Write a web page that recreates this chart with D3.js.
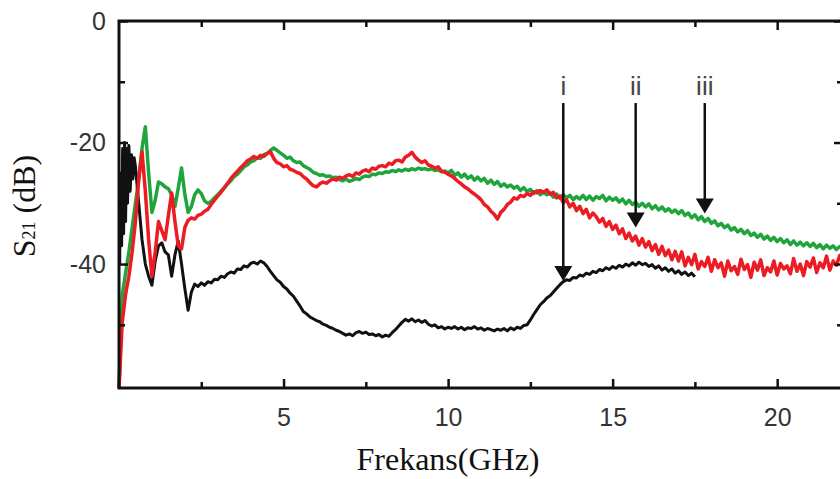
<!DOCTYPE html>
<html lang="en">
<head>
    <meta charset="UTF-8">
    <title>S21 vs Frekans</title>
    <script src="https://d3js.org/d3.v7.min.js"></script>
    <style>
        body {
            margin: 0;
            background: #fff;
        }
        svg {
            display: block;
        }
        .tick text {
            font-family: "Liberation Sans", Arial, sans-serif;
            font-size: 25px;
            fill: #333;
        }
    </style>
</head>
<body>
    <svg width="840" height="479"></svg>

    <script>
        // frequency grid (GHz), all series sampled every 0.1 GHz
        const freqStep = 0.1;
        const greenStart = 0, redStart = 0, blackStart = 0.5;

        const greenS21 = [
            -60.4,-45.0,-41.5,-38.0,-34.0,-30.0,-26.0,-21.0,-17.4,-25.0,
            -31.5,-29.5,-26.5,-26.8,-27.3,-27.6,-28.6,-30.5,-27.5,-24.2,
            -28.5,-31.5,-30.5,-28.6,-27.8,-28.4,-29.6,-30.0,-29.7,-29.1,
            -28.6,-28.0,-27.5,-26.8,-26.3,-25.6,-25.2,-24.6,-24.0,-23.7,
            -23.2,-23.0,-22.5,-22.6,-22.0,-21.8,-21.3,-20.9,-21.3,-21.7,
            -22.1,-22.6,-22.4,-23.0,-23.3,-23.2,-23.8,-24.1,-24.4,-24.9,
            -25.1,-25.4,-25.3,-25.6,-25.5,-25.8,-25.7,-26.1,-26.3,-26.0,
            -26.4,-26.2,-25.9,-26.1,-25.7,-25.5,-25.6,-25.2,-25.3,-25.0,
            -25.1,-24.8,-24.9,-24.6,-24.8,-24.5,-24.7,-24.4,-24.6,-24.3,
            -24.5,-24.2,-24.4,-24.3,-24.5,-24.3,-24.6,-24.5,-24.8,-24.7,
            -25.0,-24.6,-25.4,-25.0,-25.7,-25.2,-25.9,-25.5,-26.2,-25.7,
            -26.3,-25.9,-26.7,-26.2,-26.9,-26.4,-27.2,-26.8,-27.3,-27.0,
            -27.5,-27.2,-27.9,-27.4,-28.1,-27.7,-28.4,-27.9,-28.6,-28.2,
            -28.6,-28.3,-29.0,-28.5,-29.2,-28.6,-29.1,-28.7,-29.4,-28.9,
            -29.3,-28.7,-29.4,-28.8,-29.5,-28.9,-29.2,-28.7,-29.6,-29.0,
            -29.5,-29.1,-29.8,-29.3,-30.1,-29.5,-30.2,-29.8,-30.5,-30.0,
            -30.6,-30.1,-30.9,-30.4,-31.1,-30.6,-31.3,-30.9,-31.5,-31.1,
            -31.7,-31.2,-32.0,-31.6,-32.4,-31.9,-32.7,-32.2,-33.0,-32.5,
            -33.3,-32.9,-33.7,-33.3,-34.0,-33.6,-34.4,-34.0,-34.7,-34.3,
            -35.0,-34.5,-35.3,-34.9,-35.6,-35.1,-35.9,-35.4,-36.1,-35.6,
            -36.3,-35.8,-36.5,-36.0,-36.8,-36.2,-36.9,-36.4,-37.0,-36.5,
            -37.1,-36.6,-37.3,-36.8,-37.5,-36.9,-37.4,-37.0,-37.6,-37.1,
            -37.3
        ];

        const redS21 = [
            -60.4,-49.5,-45.0,-42.0,-38.0,-33.0,-26.0,-21.5,-28.0,-36.0,
            -42.0,-38.0,-33.0,-34.5,-36.0,-32.0,-28.3,-33.0,-37.0,-37.5,
            -34.0,-32.8,-32.4,-32.6,-32.0,-31.8,-31.3,-31.0,-30.2,-29.5,
            -28.8,-28.2,-27.4,-26.7,-25.9,-25.3,-24.7,-24.1,-23.6,-23.0,
            -22.7,-22.3,-22.6,-22.1,-22.3,-21.8,-21.5,-22.6,-23.3,-23.5,
            -24.0,-23.8,-24.4,-24.6,-24.9,-25.1,-25.6,-26.0,-26.6,-27.1,
            -27.3,-26.8,-26.5,-26.7,-26.3,-26.0,-26.2,-25.7,-25.9,-25.5,
            -25.3,-25.6,-25.0,-25.2,-24.7,-24.5,-24.8,-24.2,-24.4,-23.9,
            -23.8,-24.0,-23.4,-23.6,-23.0,-22.9,-23.2,-22.4,-22.1,-21.6,
            -22.4,-22.9,-23.3,-23.0,-23.7,-23.9,-24.2,-24.0,-24.7,-24.9,
            -25.2,-25.5,-25.9,-26.4,-26.8,-27.3,-27.6,-28.1,-28.5,-28.9,
            -29.4,-30.2,-30.6,-31.3,-31.8,-32.6,-31.5,-31.0,-30.2,-29.8,
            -29.1,-29.3,-28.7,-28.9,-28.4,-28.7,-28.1,-28.3,-27.9,-28.2,
            -27.8,-28.5,-28.2,-29.1,-28.8,-29.9,-29.4,-30.6,-30.0,-31.2,
            -30.5,-31.7,-31.0,-32.4,-31.6,-32.2,-33.1,-32.5,-33.8,-33.0,
            -34.3,-33.6,-35.0,-34.2,-35.8,-34.9,-36.2,-35.4,-36.9,-35.8,
            -37.2,-36.3,-37.8,-36.8,-38.4,-37.1,-38.6,-37.7,-39.3,-37.9,
            -39.5,-38.0,-40.3,-38.9,-40.1,-38.4,-40.8,-39.6,-40.4,-38.9,
            -41.2,-39.3,-40.6,-39.8,-42.0,-39.5,-41.1,-40.4,-41.7,-39.2,
            -40.9,-40.1,-42.2,-39.7,-41.0,-39.3,-41.9,-40.6,-41.3,-39.5,
            -41.8,-39.9,-40.8,-40.3,-41.6,-39.1,-41.2,-40.0,-41.9,-39.6,
            -40.5,-39.0,-41.4,-39.8,-40.6,-38.7,-41.0,-39.5,-40.2,-38.6,
            -40.0
        ];

        // black trace: fast ripple below 0.5 GHz, then 0.1 GHz grid up to 17.5 GHz
        const blackOnset = [
            [0.02, -40], [0.05, -25], [0.08, -37], [0.11, -21], [0.14, -35],
            [0.17, -20], [0.2, -33], [0.23, -21], [0.26, -30], [0.3, -20.5],
            [0.34, -28], [0.38, -22], [0.42, -26], [0.46, -22.5]
        ];
        const blackS21 = [
            -24.0,-30.0,-36.0,-40.0,-42.0,-43.5,-39.5,-37.0,-36.5,-38.0,
            -38.5,-42.0,-38.5,-36.2,-40.0,-44.0,-47.6,-44.6,-43.3,-43.7,
            -43.1,-43.5,-42.9,-43.1,-42.5,-42.6,-42.0,-42.2,-41.6,-41.3,
            -41.5,-40.8,-40.9,-40.3,-40.5,-39.9,-39.7,-40.0,-39.5,-39.8,
            -40.4,-41.2,-41.9,-42.6,-43.0,-43.7,-44.1,-44.8,-45.3,-46.1,
            -46.9,-47.8,-48.2,-48.7,-49.0,-49.3,-49.5,-49.9,-50.1,-50.4,
            -50.6,-50.9,-51.1,-51.4,-51.7,-51.5,-51.8,-51.3,-51.1,-51.4,
            -51.2,-51.6,-51.5,-51.8,-51.6,-52.0,-51.7,-51.9,-51.3,-50.8,
            -50.2,-49.6,-49.1,-49.4,-49.0,-49.5,-49.2,-49.6,-49.3,-49.9,
            -50.2,-50.0,-50.5,-50.3,-50.7,-50.4,-50.6,-50.3,-50.7,-50.4,
            -50.8,-50.5,-50.6,-50.3,-50.7,-50.5,-50.9,-50.6,-50.8,-51.0,
            -50.7,-50.9,-50.6,-51.0,-50.5,-50.8,-50.4,-50.6,-50.1,-50.0,
            -49.2,-48.3,-47.5,-46.7,-46.2,-45.6,-45.2,-44.6,-44.0,-43.4,
            -42.9,-42.6,-42.7,-42.2,-42.3,-41.8,-42.0,-41.5,-41.7,-41.2,
            -41.4,-40.9,-41.1,-40.6,-40.9,-40.4,-40.7,-40.2,-40.5,-40.0,
            -40.3,-39.8,-40.2,-39.7,-40.1,-39.9,-40.4,-40.1,-40.7,-40.3,
            -41.0,-40.6,-41.2,-40.8,-41.5,-41.1,-41.7,-41.3,-41.9,-41.5,
            -42.1
        ];

        // annotation arrows
        const arrowLabels = ["i", "ii", "iii"];
        const arrowFreq = [13.5, 15.7, 17.8];
        const arrowTip = [-42.8, -34.0, -31.7];
        const arrowTop = -13.5;

        const xMajor = [5, 10, 15, 20];
        const xMinor = [2.5, 7.5, 12.5, 17.5];
        const yMajor = [0, -20, -40];
        const yMinor = [-10, -30, -50];

        const svg = d3.select("svg");
        const x = d3.scaleLinear().domain([0, 22]).range([119, 843]);
        const y = d3.scaleLinear().domain([-60.4, 0]).range([388, 21]);

        const toPoints = (vals, start) => vals.map((v, i) => [start + i * freqStep, v]);

        const line = d3.line()
            .x(d => x(d[0]))
            .y(d => y(d[1]));

        const plot = svg.append("g");

        plot.append("path")
            .attr("d", line(toPoints(greenS21, greenStart)))
            .attr("fill", "none")
            .attr("stroke", "#1fa53c")
            .attr("stroke-width", 3.5)
            .attr("stroke-linejoin", "round");

        plot.append("path")
            .attr("d", line(blackOnset.concat(toPoints(blackS21, blackStart))))
            .attr("fill", "none")
            .attr("stroke", "#111")
            .attr("stroke-width", 3)
            .attr("stroke-linejoin", "round");

        plot.append("path")
            .attr("d", line(toPoints(redS21, redStart)))
            .attr("fill", "none")
            .attr("stroke", "#ec1c24")
            .attr("stroke-width", 3.5)
            .attr("stroke-linejoin", "round");

        // arrows
        arrowLabels.forEach((lab, i) => {
            const ax = x(arrowFreq[i]);
            const ty = y(arrowTip[i]);
            const g = svg.append("g");
            g.append("line")
                .attr("x1", ax).attr("x2", ax)
                .attr("y1", y(arrowTop)).attr("y2", ty - 12)
                .attr("stroke", "#111")
                .attr("stroke-width", 2.5);
            g.append("path")
                .attr("d", `M${ax - 9},${ty - 15}L${ax + 9},${ty - 15}L${ax},${ty}Z`)
                .attr("fill", "#111");
            g.append("text")
                .attr("x", ax)
                .attr("y", y(arrowTop) - 8)
                .attr("text-anchor", "middle")
                .attr("font-family", "Liberation Sans, Arial, sans-serif")
                .attr("font-size", 26)
                .attr("fill", "#444")
                .text(lab);
        });

        // frame and ticks
        svg.append("rect")
            .attr("x", x(0)).attr("y", y(0))
            .attr("width", x(22) - x(0))
            .attr("height", y(-60.4) - y(0))
            .attr("fill", "none")
            .attr("stroke", "#111")
            .attr("stroke-width", 3);

        const fmt = d => String(d);

        const axisB = svg.append("g").attr("transform", `translate(0,${y(-60.4)})`);
        axisB.call(d3.axisBottom(x).tickValues(xMajor).tickSize(-9).tickPadding(20).tickFormat(fmt));
        axisB.append("g").call(d3.axisBottom(x).tickValues(xMinor).tickSize(-6).tickFormat(""));

        const axisT = svg.append("g").attr("transform", `translate(0,${y(0)})`);
        axisT.call(d3.axisTop(x).tickValues(xMajor).tickSize(-9).tickFormat(""));
        axisT.append("g").call(d3.axisTop(x).tickValues(xMinor).tickSize(-6).tickFormat(""));

        const axisL = svg.append("g").attr("transform", `translate(${x(0)},0)`);
        axisL.call(d3.axisLeft(y).tickValues(yMajor).tickSize(-9).tickPadding(13).tickFormat(fmt));
        axisL.append("g").call(d3.axisLeft(y).tickValues(yMinor).tickSize(-6).tickFormat(""));

        const axisR = svg.append("g").attr("transform", `translate(${x(22)},0)`);
        axisR.call(d3.axisRight(y).tickValues(yMajor).tickSize(-9).tickFormat(""));
        axisR.append("g").call(d3.axisRight(y).tickValues(yMinor).tickSize(-6).tickFormat(""));

        svg.selectAll(".domain").remove();
        svg.selectAll(".tick line").attr("stroke", "#111").attr("stroke-width", 2.5);

        // axis titles
        svg.append("text")
            .attr("x", 448)
            .attr("y", 470)
            .attr("text-anchor", "middle")
            .attr("font-family", "Liberation Serif, Times New Roman, serif")
            .attr("font-size", 32)
            .attr("fill", "#111")
            .text("Frekans(GHz)");

        const yTitle = svg.append("text")
            .attr("transform", "translate(35,206) rotate(-90)")
            .attr("text-anchor", "middle")
            .attr("font-family", "Liberation Serif, Times New Roman, serif")
            .attr("font-size", 32)
            .attr("fill", "#111");
        yTitle.append("tspan").text("S");
        yTitle.append("tspan").attr("font-size", 18).text("21");
        yTitle.append("tspan").text(" (dB)");
    </script>
</body>
</html>
